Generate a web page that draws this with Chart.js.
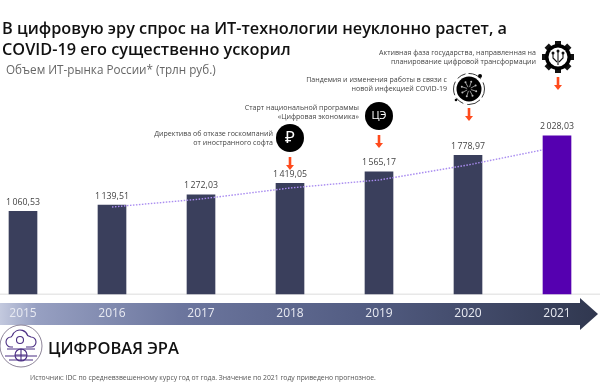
<!DOCTYPE html>
<html><head><meta charset="utf-8">
<style>html,body{margin:0;padding:0;background:#fff;overflow:hidden}#w{position:relative;width:600px;height:382px}</style>
<script src="https://cdn.jsdelivr.net/npm/chart.js@4"></script>
</head><body><div id="w"><canvas id="c" width="600" height="382"></canvas></div>
<script>
const years = ['2015','2016','2017','2018','2019','2020','2021'];
const marketValues = [1060.53,1139.51,1272.03,1419.05,1565.17,1778.97,null];
const forecastValues = [null,null,null,null,null,null,2028.03];
const valueLabels = ['1\u2009060,53','1\u2009139,51','1\u2009272,03','1\u2009419,05','1\u2009565,17','1\u2009778,97','2\u2009028,03'];
const trendValues = [null,1115,1218,1359,1462,1654,1885];
const titleLines = ['В цифровую эру спрос на ИТ-технологии неуклонно растет, а','COVID-19 его существенно ускорил'];
const subtitleText = 'Объем ИТ-рынка России* (трлн руб.)';
const brandText = 'ЦИФРОВАЯ ЭРА';
const sourceText = 'Источник: IDC по средневзвешенному курсу год от года. Значение по 2021 году приведено прогнозное.';
const notes = [
 {right:273,y:134,lines:['Директива об отказе госкомпаний','от иностранного софта']},
 {right:359,y:108,lines:['Старт национальной программы','«Цифровая экономика»']},
 {right:447,y:80,lines:['Пандемия и изменения работы в связи с','новой инфекцией COVID-19']},
 {right:536,y:53,lines:['Активная фаза государства, направленная на','планирование цифровой трансформации']}
];
const FONT='"Open Sans"';

function txt(ctx,s,x,y,font,color,align){ctx.font=font;ctx.fillStyle=color;ctx.textAlign=align||'left';ctx.textBaseline='middle';ctx.fillText(s,x,y);}
function arrow(ctx,x,y){ctx.strokeStyle=ctx.fillStyle='#ff4a1c';ctx.lineWidth=2.6;ctx.beginPath();ctx.moveTo(x,y);ctx.lineTo(x,y+9);ctx.stroke();ctx.beginPath();ctx.moveTo(x-4,y+8);ctx.lineTo(x+4,y+8);ctx.lineTo(x,y+13);ctx.closePath();ctx.fill();}
function disc(ctx,x,y,r,c){ctx.fillStyle=c||'#000';ctx.beginPath();ctx.arc(x,y,r,0,Math.PI*2);ctx.fill();}
function virus(ctx,x,y){
 disc(ctx,x,y,12.5);
 ctx.strokeStyle='#222';ctx.lineWidth=.9;ctx.setLineDash([9,3,14,4]);ctx.beginPath();ctx.arc(x,y,15.5,0,Math.PI*2);ctx.stroke();ctx.setLineDash([]);
 disc(ctx,x+11,y-13,2);disc(ctx,x-13,y+11,1.3);
 ctx.strokeStyle='#bbb';ctx.lineWidth=.8;
 for(let i=0;i<8;i++){const a=i*Math.PI/4+.3;ctx.beginPath();ctx.moveTo(x+2*Math.cos(a),y+2*Math.sin(a));ctx.lineTo(x+7*Math.cos(a),y+7*Math.sin(a));ctx.stroke();disc(ctx,x+7.5*Math.cos(a),y+7.5*Math.sin(a),1,'#bbb');}
}
function gear(ctx,x,y){
 ctx.fillStyle='#111';
 for(let i=0;i<8;i++){ctx.save();ctx.translate(x,y);ctx.rotate(i*Math.PI/4);ctx.fillRect(-3,-16,6,6);ctx.restore();}
 disc(ctx,x,y,13);disc(ctx,x,y,9.5,'#fff');
 ctx.strokeStyle='#111';ctx.lineWidth=1.1;
 [[-5,-3,-5,1,-1,5],[0,-5,0,5,0,8],[5,-3,5,1,1,5]].forEach(p=>{ctx.beginPath();ctx.moveTo(x+p[0],y+p[1]);ctx.lineTo(x+p[2],y+p[3]);ctx.lineTo(x+p[4],y+p[5]);ctx.stroke();disc(ctx,x+p[0],y+p[1]-1,1.5,'#111');});
}
function logo(ctx){
 const x=21,y=346,c='#4b2e83';
 ctx.strokeStyle='#8d8498';ctx.lineWidth=1;ctx.beginPath();ctx.arc(x,y,21,0,Math.PI*2);ctx.stroke();
 ctx.strokeStyle=c;ctx.lineWidth=1.1;
 ctx.beginPath();ctx.moveTo(x-8,y+1);ctx.arc(x-10,y-4,5,Math.PI*.5,Math.PI*1.5);ctx.arc(x-1,y-8,8,Math.PI*1.1,Math.PI*1.9);ctx.arc(x+10,y-4,5,-Math.PI*.5,Math.PI*.5);ctx.lineTo(x+5,y+1);ctx.stroke();
 ctx.beginPath();ctx.arc(x-1,y-6,3.5,0,Math.PI*2);ctx.stroke();
 ctx.beginPath();ctx.arc(x,y+9,6,0,Math.PI*2);ctx.moveTo(x-6,y+9);ctx.lineTo(x+6,y+9);ctx.moveTo(x,y+3);ctx.lineTo(x,y+15);ctx.stroke();
 ctx.beginPath();ctx.moveTo(x-14,y+3);ctx.lineTo(x+14,y+3);ctx.moveTo(x-16,y+10);ctx.lineTo(x+16,y+10);ctx.moveTo(x-12,y+14);ctx.lineTo(x+12,y+14);ctx.stroke();
}

const decor={id:'decor',
 beforeDraw(chart){
  const ctx=chart.ctx;ctx.save();
  const g=ctx.createLinearGradient(0,0,598,0);
  g.addColorStop(0,'#c3c9de');g.addColorStop(.06,'#97a0c2');g.addColorStop(.3,'#6c769e');g.addColorStop(.6,'#535d83');g.addColorStop(1,'#30374f');
  ctx.fillStyle=g;ctx.beginPath();ctx.moveTo(0,303);ctx.lineTo(580,303);ctx.lineTo(580,298);ctx.lineTo(598,314);ctx.lineTo(580,330);ctx.lineTo(580,325);ctx.lineTo(0,325);ctx.closePath();ctx.fill();
  ctx.fillStyle='#e8e8e8';ctx.fillRect(0,293.5,600,1.5);
  ctx.restore();
 },
 afterDraw(chart){
  const ctx=chart.ctx,x=chart.scales.x,y=chart.scales.y;ctx.save();
  txt(ctx,titleLines[0],2,29,'600 16.3px '+FONT,'#111');
  txt(ctx,titleLines[1],2,50,'600 16.3px '+FONT,'#111');
  txt(ctx,subtitleText,6,71,'400 11.7px '+FONT,'#666');
  years.forEach((yr,i)=>{const v=marketValues[i]===null?forecastValues[i]:marketValues[i];txt(ctx,valueLabels[i],x.getPixelForValue(i),y.getPixelForValue(v)-9,'400 8.8px '+FONT,'#444','center');});
  notes.forEach(n=>n.lines.forEach((l,i)=>txt(ctx,l,n.right,n.y+i*9.3,'400 7.05px '+FONT,'#444','right')));
  const ax=[x.getPixelForValue(3),x.getPixelForValue(4),x.getPixelForValue(5),x.getPixelForValue(6)];
  disc(ctx,ax[0],138,14);txt(ctx,'₽',ax[0],138,'400 17px "Noto Sans"','#fff','center');
  disc(ctx,ax[1],116,14);txt(ctx,'ЦЭ',ax[1],116,'400 11px '+FONT,'#fff','center');
  virus(ctx,ax[2]+1,89);gear(ctx,ax[3]+1,57);
  arrow(ctx,ax[0],157);arrow(ctx,ax[1],135);arrow(ctx,ax[2]+1,108);arrow(ctx,ax[3]+1,77);
  logo(ctx);
  txt(ctx,brandText,48,349,'600 16.5px '+FONT,'#111');
  txt(ctx,sourceText,30,378,'400 6.8px '+FONT,'#555');
  ctx.restore();
 }};

new Chart(document.getElementById('c'),{
 data:{labels:years,datasets:[
  {type:'line',data:trendValues,borderColor:'#a98cf0',borderWidth:1.4,borderDash:[1.5,1.5],pointRadius:0,tension:0,order:2,clip:false},
  {type:'bar',data:marketValues,backgroundColor:'#3a3f5c',barThickness:28,grouped:false,order:3,clip:false},
  {type:'bar',data:forecastValues,backgroundColor:'#5500b0',barThickness:28,grouped:false,order:1,clip:false}
 ]},
 options:{responsive:false,animation:false,
  layout:{padding:{left:23,right:43,top:0,bottom:0}},
  plugins:{legend:{display:false},tooltip:{enabled:false},title:{display:false}},
  scales:{
   x:{offset:false,grid:{display:false},border:{display:false},
      ticks:{color:'#e8eaf2',font:{family:FONT,size:12},padding:4,maxRotation:0,autoSkip:false,align:'center'},
      afterFit(s){s.height=88;}},
   y:{display:false,min:0,max:3769}
  }},
 plugins:[decor]
});
</script></body></html>
